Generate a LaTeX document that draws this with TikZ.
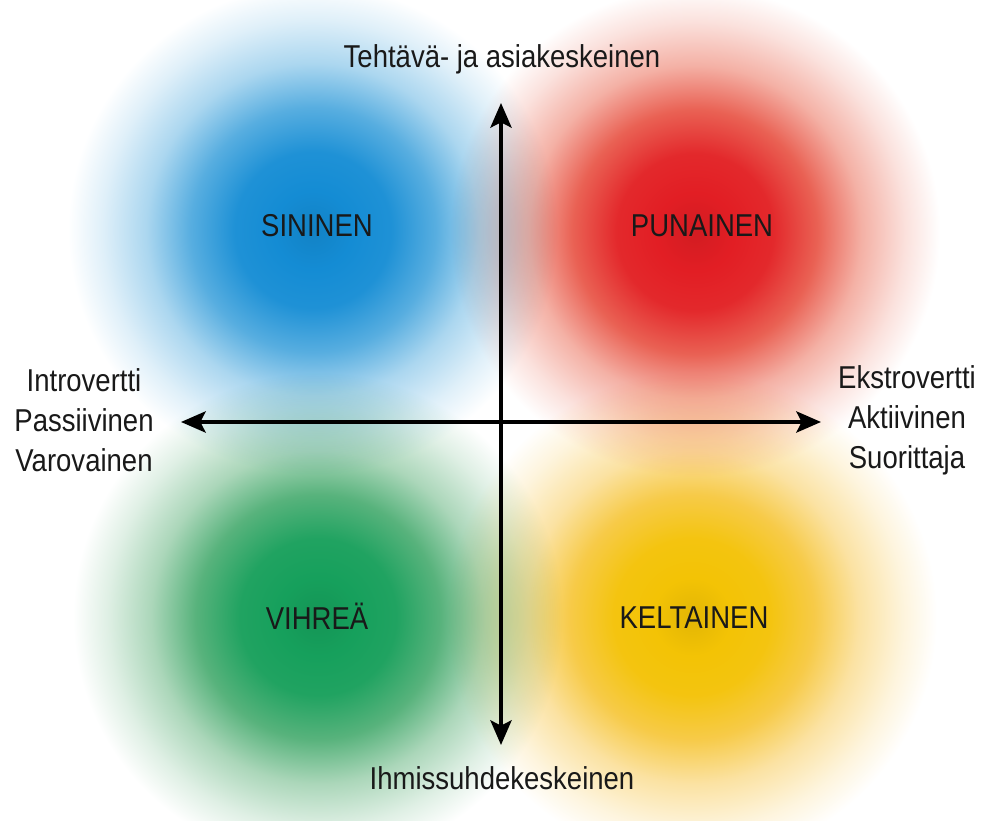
\documentclass[tikz,border=0pt]{standalone}
\usepackage{xcolor}
\usepackage{fontspec}
\setmainfont{Liberation Sans}[FakeStretch=0.87]
\usepackage{tikz}
\usetikzlibrary{arrows.meta}

\definecolor{sininen}{RGB}{20,140,212}
\definecolor{sininenreuna}{RGB}{110,185,228}
\definecolor{punainen}{RGB}{226,30,36}
\definecolor{punainenreuna}{RGB}{236,120,100}
\definecolor{vihrea}{RGB}{22,160,92}
\definecolor{vihreareuna}{RGB}{110,185,135}
\definecolor{keltainen}{RGB}{243,195,5}
\definecolor{keltainenreuna}{RGB}{248,205,95}
\definecolor{teksti}{RGB}{25,25,25}

\newcommand{\blobshading}[3]{%
  \pgfdeclareradialshading{#1}{\pgfpoint{0bp}{0bp}}{%
    color(0bp)=(#2!93!black); color(4bp)=(#2);
    color(8bp)=(#2!88!#3); color(12.5bp)=(#2!25!#3);
    color(17bp)=(#3!58!white); color(21.5bp)=(#3!22!white);
    color(25bp)=(white); color(50bp)=(white)}}
\blobshading{sininenblob}{sininen}{sininenreuna}
\blobshading{punainenblob}{punainen}{punainenreuna}
\blobshading{vihreablob}{vihrea}{vihreareuna}
\blobshading{keltainenblob}{keltainen}{keltainenreuna}

\begin{document}
\begin{tikzpicture}[
    x=0.02cm, y=0.02cm,
    blob/.style={shading=#1},
    label/.style={text=teksti, inner sep=0pt, align=center, font=\fontsize{18}{22.8}\selectfont},
    arrow/.style={-{Stealth[length=14pt, width=12pt, inset=3pt]}, line width=2.3pt}
]
    \fill[white] (0,0) rectangle (984,821);
    \useasboundingbox (0,0) rectangle (984,821);

    % Colour blobs
    \begin{scope}[blend mode=multiply]
        \shade[blob=sininenblob] (313,591) circle (245);
        \shade[blob=punainenblob] (695,589) circle (245);
        \shade[blob=vihreablob] (318,204) circle (245);
        \shade[blob=keltainenblob] (692,204) circle (245);
    \end{scope}

    % Quadrant labels
    \node[label, anchor=base] (sininen) at (317,584) {SININEN};
    \node[label, anchor=base] (punainen) at (702,584) {PUNAINEN};
    \node[label, anchor=base] (vihrea) at (317,191) {VIHREÄ};
    \node[label, anchor=base] (keltainen) at (694,192) {KELTAINEN};

    % Axis labels
    \node[label, anchor=base] (tehtava) at (502,753) {Tehtävä- ja asiakeskeinen};
    \node[label, anchor=base] (ihmis) at (502,31) {Ihmissuhdekeskeinen};
    \node[label] (intro) at (84,401) {Introvertti\\Passiivinen\\Varovainen};
    \node[label] (ekstro) at (907,401) {Ekstrovertti\\Aktiivinen\\Suorittaja};

    % Axis ends
    \coordinate (ylos) at (501,718);
    \coordinate (alas) at (501,76);
    \coordinate (vasen) at (181,399);
    \coordinate (oikea) at (821,399);
    \coordinate (keski) at (501,399);

    % Arrows
    \draw[arrow] (keski) -- (ylos);
    \draw[arrow] (keski) -- (alas);
    \draw[arrow] (keski) -- (vasen);
    \draw[arrow] (keski) -- (oikea);
\end{tikzpicture}
\end{document}
